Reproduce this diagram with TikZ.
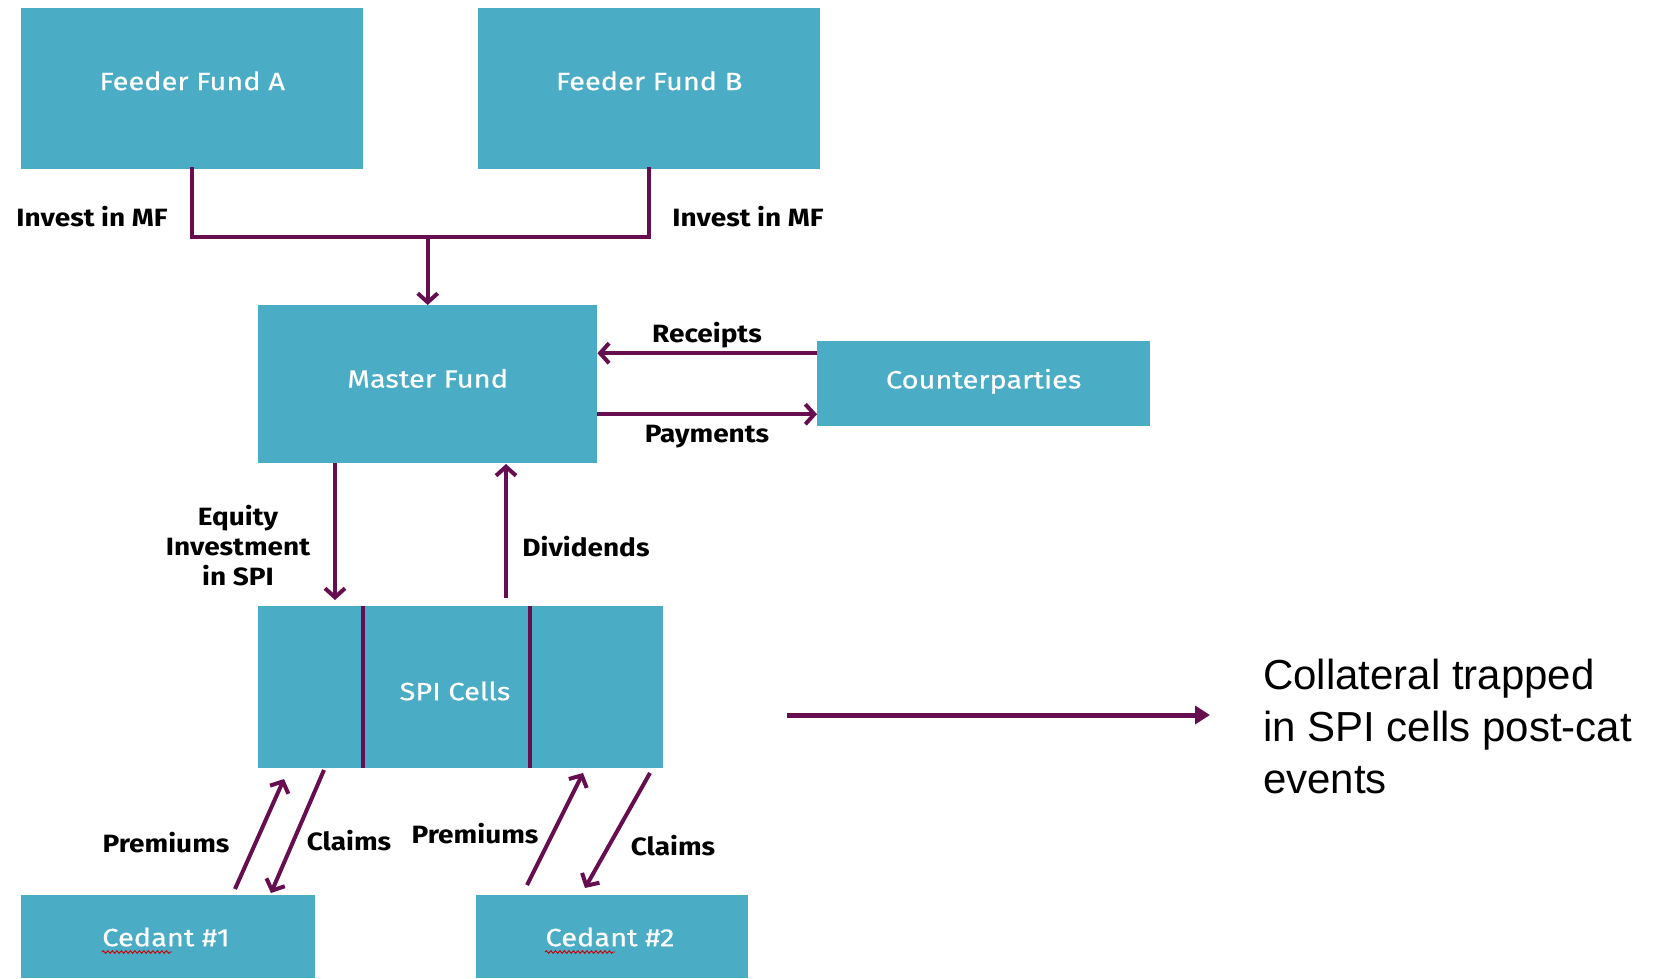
\documentclass[tikz,border=0pt]{standalone}
\usepackage{fontspec}
\setmainfont{Liberation Sans}
\newfontfamily\boxfont[FakeStretch=1.16,FakeBold=0.5]{Fira Sans}
\newfontfamily\lblfont[FakeStretch=1.12]{Fira Sans}
\usetikzlibrary{arrows.meta,decorations.pathmorphing}
\definecolor{boxc}{HTML}{4BACC6}
\definecolor{arrc}{HTML}{660E4F}
\tikzset{
  box/.style={fill=boxc, draw=none, inner sep=0pt, anchor=north west, text=white,
    font=\boxfont\fontsize{25}{28}\selectfont},
  boxtext/.style={inner sep=0pt, text=white, font=\boxfont\fontsize{25}{28}\selectfont},
  lbl/.style={inner sep=0pt, text=black, align=center,
    font=\lblfont\bfseries\fontsize{25}{30}\selectfont},
  arr/.style={draw=arrc, line width=4pt, -{Straight Barb[length=9pt,width=20pt,line width=4pt]}},
  plain/.style={draw=arrc, line width=4pt},
  squig/.style={draw=red!80!black, line width=0.9pt, decorate,
    decoration={snake, segment length=4.5pt, amplitude=1.3pt}},
}
\begin{document}
\begin{tikzpicture}[x=1pt,y=-1pt]
\useasboundingbox (0,0) rectangle (1659,978);
% boxes
\node[box, minimum width=342pt, minimum height=161pt] (fa) at (21,8) {\raisebox{16pt}{Feeder Fund A}};
\node[box, minimum width=342pt, minimum height=161pt] (fb) at (478,8) {\raisebox{16pt}{Feeder Fund B}};
\node[box, minimum width=339pt, minimum height=158pt] (mf) at (258,305) {\raisebox{12pt}{Master Fund}};
\node[box, minimum width=333pt, minimum height=85pt] (cp) at (817,341) {\raisebox{10pt}{Counterparties}};
\node[box, minimum width=405pt, minimum height=162pt] (spi) at (258,606) {};
\node[box, minimum width=294pt, minimum height=83pt] (c1) at (21,895) {};
\node[box, minimum width=272pt, minimum height=83pt] (c2) at (476,895) {};
% texts inside split / cut boxes
\node[boxtext] (spit) at (455,691) {SPI Cells};
\node[boxtext] (c1t) at (166,937) {Cedant \#1};
\node[boxtext] (c2t) at (610,937) {Cedant \#2};
\draw[squig] (102,952) -- (172,952);
\draw[squig] (545,952) -- (615,952);
% cell dividers
\draw[plain] (363,606) -- (363,768);
\draw[plain] (530,606) -- (530,768);
% feeder to master
\coordinate (jn) at (mf.north |- 0,237);
\draw[plain, line cap=rect] (fa.south) |- (jn) -| (fb.south);
\draw[arr] (jn) -- (mf.north);
% master <-> counterparties
\draw[arr] ([yshift=30.5pt]cp.west) -- ([yshift=30.5pt]cp.west -| mf.east);
\draw[arr] ([yshift=-30.5pt]cp.west -| mf.east) -- ([yshift=-30.5pt]cp.west);
% master <-> spi
\coordinate (eqt) at (335,463);
\coordinate (eqb) at (335,600);
\coordinate (dvb) at (506,598);
\coordinate (dvt) at (506,464);
\draw[arr] (eqt) -- (eqb);
\draw[arr] (dvb) -- (dvt);
% spi <-> cedants
\coordinate (p1a) at (235,889); \coordinate (p1b) at (284,779);
\coordinate (k1a) at (324,770); \coordinate (k1b) at (271,893);
\coordinate (p2a) at (527,885); \coordinate (p2b) at (583,773);
\coordinate (k2a) at (650,773); \coordinate (k2b) at (585,888);
\draw[arr] (p1a) -- (p1b);
\draw[arr] (k1a) -- (k1b);
\draw[arr] (p2a) -- (p2b);
\draw[arr] (k2a) -- (k2b);
% collateral arrow
\coordinate (cla) at (787,715);
\coordinate (clb) at (1210,715);
\draw[draw=arrc, line width=5pt, -{Triangle[length=15pt,width=18pt]}] (cla) -- (clb);
% labels
\node[lbl] (l1) at (92,217) {Invest in MF};
\node[lbl] (l2) at (748,217) {Invest in MF};
\node[lbl] (l3) at (707,335) {Receipts};
\node[lbl] (l4) at (707,437) {Payments};
\node[lbl] (l5) at (238,546) {Equity\\Investment\\in SPI};
\node[lbl] (l6) at (586,547) {Dividends};
\node[lbl] (l7) at (166,843) {Premiums};
\node[lbl] (l8) at (349,841) {Claims};
\node[lbl] (l9) at (475,834) {Premiums};
\node[lbl] (l10) at (673,846) {Claims};
\node[inner sep=0pt, anchor=north west, align=left, font=\fontsize{42}{52}\selectfont] (col) at (1263,659)
  {Collateral trapped\\in SPI cells post-cat\\events};
\end{tikzpicture}
\end{document}
